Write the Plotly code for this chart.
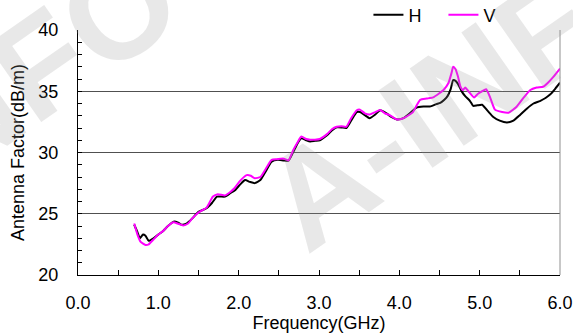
import plotly.graph_objects as go

freq_h = [0.70, 0.74, 0.77, 0.81, 0.84, 0.88, 0.94, 1.00, 1.06, 1.12, 1.19, 1.24, 1.29, 1.35, 1.42,
          1.50, 1.60, 1.67, 1.73, 1.83, 1.90, 1.95, 2.02, 2.08, 2.14, 2.20, 2.27, 2.34, 2.41, 2.49,
          2.56, 2.62, 2.68, 2.73, 2.78, 2.84, 2.89, 2.95, 3.01, 3.10, 3.16, 3.22, 3.28, 3.34, 3.40,
          3.47, 3.51, 3.57, 3.63, 3.70, 3.76, 3.84, 3.90, 3.97, 4.05, 4.13, 4.21, 4.30, 4.38, 4.46,
          4.51, 4.56, 4.60, 4.64, 4.67, 4.70, 4.73, 4.78, 4.82, 4.88, 4.92, 4.97, 5.03, 5.10, 5.17,
          5.25, 5.34, 5.42, 5.50, 5.59, 5.67, 5.75, 5.82, 5.88, 5.94, 6.00]
h_vals = [24.1, 23.5, 23.0, 23.3, 23.2, 22.8, 23.0, 23.3, 23.6, 24.0, 24.35, 24.3, 24.1, 24.2, 24.6,
          25.15, 25.45, 25.9, 26.4, 26.4, 26.7, 26.9, 27.4, 27.75, 27.6, 27.5, 27.75, 28.5, 29.25, 29.4,
          29.35, 29.33, 30.05, 30.7, 31.15, 31.0, 30.9, 30.95, 31.0, 31.4, 31.8, 32.05, 32.05, 32.0, 32.6,
          33.3, 33.3, 33.05, 32.8, 33.1, 33.45, 33.2, 32.9, 32.7, 32.8, 33.2, 33.65, 33.75, 33.75, 33.95,
          34.05, 34.3, 34.6, 35.2, 35.9, 35.85, 35.6, 34.95, 34.6, 34.2, 33.8, 33.85, 33.9, 33.4, 32.9,
          32.6, 32.45, 32.6, 33.05, 33.6, 34.0, 34.2, 34.45, 34.75, 35.2, 35.7]

freq_v = [0.70, 0.74, 0.78, 0.84, 0.88, 0.94, 1.00, 1.06, 1.12, 1.19, 1.24, 1.31, 1.37, 1.42, 1.50,
          1.60, 1.68, 1.74, 1.83, 1.90, 1.95, 2.02, 2.10, 2.15, 2.20, 2.27, 2.34, 2.41, 2.48, 2.56,
          2.62, 2.68, 2.73, 2.78, 2.84, 2.89, 2.95, 3.01, 3.10, 3.16, 3.22, 3.28, 3.34, 3.40, 3.47,
          3.51, 3.57, 3.63, 3.70, 3.76, 3.82, 3.88, 3.97, 4.05, 4.13, 4.17, 4.22, 4.26, 4.34, 4.42,
          4.49, 4.55, 4.61, 4.65, 4.67, 4.70, 4.73, 4.76, 4.79, 4.82, 4.86, 4.93, 4.98, 5.03, 5.08,
          5.13, 5.19, 5.28, 5.36, 5.46, 5.55, 5.63, 5.71, 5.79, 5.85, 5.92, 6.00]
v_vals = [24.2, 23.3, 22.7, 22.45, 22.5, 22.9, 23.3, 23.6, 24.0, 24.3, 24.2, 24.05, 24.2, 24.6, 25.1,
          25.5, 26.4, 26.6, 26.5, 26.8, 27.1, 27.7, 28.15, 28.1, 27.9, 28.0, 28.7, 29.4, 29.45, 29.5,
          29.35, 30.2, 30.8, 31.3, 31.1, 31.05, 31.05, 31.1, 31.5, 31.9, 32.1, 32.15, 32.1, 32.8, 33.45,
          33.5, 33.2, 33.1, 33.3, 33.47, 33.2, 33.05, 32.7, 32.8, 33.1, 33.3, 33.9, 34.3, 34.4, 34.5,
          34.8, 35.1, 35.65, 36.5, 37.0, 36.8, 36.2, 35.4, 35.1, 35.3, 35.0, 34.5, 34.8, 35.0, 35.16,
          34.5, 33.5, 33.3, 33.25, 33.74, 34.5, 35.1, 35.3, 35.37, 35.7, 36.2, 36.85]

x_ticks = [0, 1, 2, 3, 4, 5, 6]
x_tick_labels = ["0.0", "1.0", "2.0", "3.0", "4.0", "5.0", "6.0"]
y_ticks = [20, 25, 30, 35, 40]
watermark_text = "A-INFO"

FONT = "Arial, Liberation Sans, sans-serif"

fig = go.Figure()
fig.add_trace(go.Scatter(x=freq_h, y=h_vals, name="H", mode="lines",
                         line=dict(color="black", width=2, shape="spline", smoothing=0.5)))
fig.add_trace(go.Scatter(x=freq_v, y=v_vals, name="V", mode="lines",
                         line=dict(color="#ff00ff", width=2, shape="spline", smoothing=0.5)))

# faint diagonal watermark
for wx, wy in [(0.8195, 0.788), (-0.226, 0.657)]:
    fig.add_annotation(text="<b>" + watermark_text + "</b>", xref="paper", yref="paper",
                       x=wx, y=wy, xanchor="center", yanchor="middle", showarrow=False,
                       textangle=-35,
                       font=dict(family=FONT, size=137, color="rgba(150,150,150,0.22)"))

fig.update_layout(
    width=573, height=335,
    margin=dict(l=78, r=13, t=30, b=60, autoexpand=False),
    paper_bgcolor="white", plot_bgcolor="white",
    font=dict(family=FONT, size=18, color="black"),
    showlegend=True,
    legend=dict(orientation="h", xref="container", yref="container",
                x=0.643, xanchor="left", y=0.955, yanchor="middle",
                font=dict(size=18), bgcolor="rgba(0,0,0,0)",
                entrywidth=30, entrywidthmode="pixels", tracegroupgap=0),
    xaxis=dict(range=[0, 6], tickvals=x_ticks, ticktext=x_tick_labels, automargin=False,
               showline=True, linecolor="black", linewidth=1,
               ticks="inside", ticklen=5, tickcolor="black",
               minor=dict(dtick=0.5, ticks="inside", ticklen=5, tickcolor="black"),
               showgrid=False, zeroline=False,
               ticklabelstandoff=11,
               title=dict(text="Frequency(GHz)", font=dict(size=18), standoff=0)),
    yaxis=dict(range=[20, 40], tickvals=y_ticks, automargin=False,
               showline=True, linecolor="black", linewidth=1,
               ticks="inside", ticklen=4, tickcolor="black",
               minor=dict(dtick=1, ticks="inside", ticklen=4, tickcolor="black", showgrid=False),
               showgrid=True, gridcolor="#505050", gridwidth=1, zeroline=False,
               ticklabelstandoff=15,
               title=dict(text="Antenna Factor(dB/m)", font=dict(size=18), standoff=9)),
)
fig.add_shape(type="line", xref="paper", yref="paper", x0=1, x1=1, y0=0, y1=1,
              line=dict(color="#909090", width=1))

fig.write_html("out.html", config={"displayModeBar": False},
               post_script="document.body.style.margin='0';document.body.style.overflow='hidden';")
